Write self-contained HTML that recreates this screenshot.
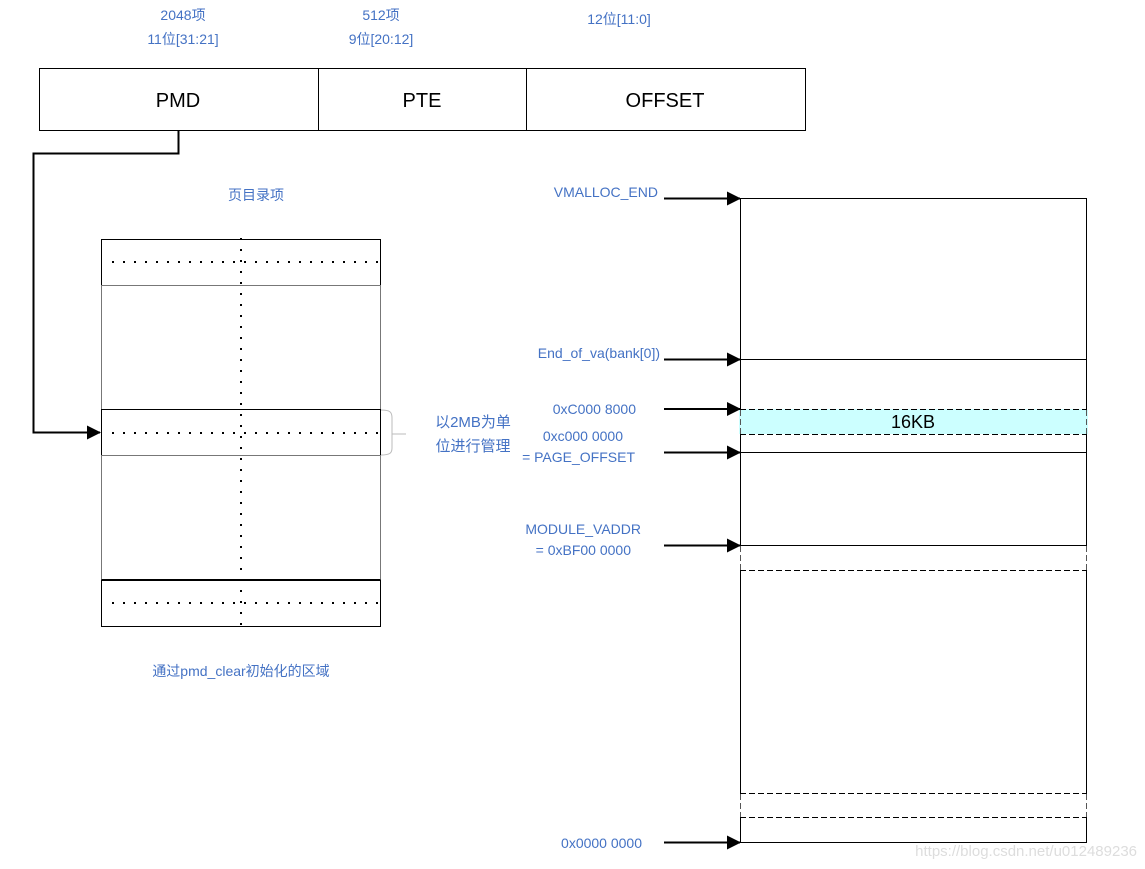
<!DOCTYPE html>
<html><head><meta charset="utf-8"><style>
html,body{margin:0;padding:0;background:#fff;width:1145px;height:869px;overflow:hidden}
svg text{font-family:"Liberation Sans","Noto Sans CJK SC",sans-serif}
</style></head><body>
<svg width="1145" height="869" viewBox="0 0 1145 869" xmlns="http://www.w3.org/2000/svg">
<defs>
<marker id="a" markerWidth="14" markerHeight="14" refX="13" refY="7" orient="auto" markerUnits="userSpaceOnUse">
<path d="M0,0 L14,7 L0,14 z" fill="#000"/></marker>
</defs>
<g fill="#4472C4" font-size="14" text-anchor="middle">
<text x="183" y="20">2048项</text>
<text x="183" y="44">11位[31:21]</text>
<text x="381" y="20">512项</text>
<text x="381" y="44">9位[20:12]</text>
<text x="619" y="24">12位[11:0]</text>
<text x="256" y="200">页目录项</text>
<text x="241" y="676">通过pmd_clear初始化的区域</text>
<text x="473" y="427" font-size="15">以2MB为单</text>
<text x="473" y="451" font-size="15">位进行管理</text>
</g>
<g fill="#4472C4" font-size="14" text-anchor="end">
<text x="658" y="197">VMALLOC_END</text>
<text x="660" y="358">End_of_va(bank[0])</text>
<text x="636" y="414">0xC000 8000</text>
<text x="623" y="441">0xc000 0000</text>
<text x="635" y="462">= PAGE_OFFSET</text>
<text x="641" y="534">MODULE_VADDR</text>
<text x="631" y="555">= 0xBF00 0000</text>
<text x="642" y="848">0x0000 0000</text>
</g>
<!-- top box -->
<rect x="39.5" y="68.5" width="766" height="62" fill="none" stroke="#000"/>
<line x1="318.5" y1="68" x2="318.5" y2="131" stroke="#000"/>
<line x1="526.5" y1="68" x2="526.5" y2="131" stroke="#000"/>
<g font-size="20" text-anchor="middle" fill="#000">
<text x="178" y="107">PMD</text>
<text x="422" y="107">PTE</text>
<text x="665" y="107">OFFSET</text>
</g>
<!-- connector -->
<polyline points="178.5,131 178.5,153.5 33.5,153.5 33.5,432.5 100,432.5" fill="none" stroke="#000" stroke-width="2" marker-end="url(#a)"/>
<!-- left table -->
<g fill="none" stroke="#000">
<rect x="101.5" y="239.5" width="279" height="46"/>
<rect x="101.5" y="285.5" width="279" height="124" stroke="#777"/>
<rect x="101.5" y="409.5" width="279" height="46"/>
<rect x="101.5" y="455.5" width="279" height="125" stroke="#777"/>
<rect x="101.5" y="580.5" width="279" height="46"/>
<line x1="101.5" y1="580" x2="380.5" y2="580" stroke-width="2"/>
<g stroke-width="2" stroke-dasharray="2 9">
<line x1="241" y1="238" x2="241" y2="626"/>
<line x1="112" y1="262" x2="380" y2="262"/>
<line x1="112" y1="433" x2="380" y2="433"/>
<line x1="112" y1="603" x2="380" y2="603"/>
</g>
<path d="M381,410 C390,410 392,412 392,418 L392,448 C392,453 390,455 381,455 M392,434 L406,434" stroke="#bbb"/>
</g>
<!-- right box -->
<rect x="740" y="409" width="347" height="25" fill="#CCFFFF"/>
<g fill="none" stroke="#000">
<line x1="740.5" y1="198" x2="740.5" y2="842"/>
<line x1="1086.5" y1="198" x2="1086.5" y2="842"/>
<line x1="740" y1="198.5" x2="1087" y2="198.5"/>
<line x1="740" y1="359.5" x2="1087" y2="359.5"/>
<line x1="740" y1="452.5" x2="1087" y2="452.5"/>
<line x1="740" y1="545.5" x2="1087" y2="545.5"/>
<line x1="740" y1="842.5" x2="1087" y2="842.5"/>
<g stroke-dasharray="6 3">
<line x1="740" y1="409.5" x2="1087" y2="409.5"/>
<line x1="740" y1="434.5" x2="1087" y2="434.5"/>
<line x1="740" y1="570.5" x2="1087" y2="570.5"/>
<line x1="740" y1="793.5" x2="1087" y2="793.5"/>
<line x1="740" y1="817.5" x2="1087" y2="817.5"/>
</g>
</g>
<rect x="739" y="546" width="3" height="24" fill="#fff"/><rect x="1085" y="546" width="3" height="24" fill="#fff"/>
<rect x="739" y="794" width="3" height="23" fill="#fff"/><rect x="1085" y="794" width="3" height="23" fill="#fff"/>
<rect x="739" y="410" width="3" height="24" fill="#CCFFFF"/><rect x="1085" y="410" width="3" height="24" fill="#CCFFFF"/>
<g stroke="#555" stroke-dasharray="6 3">
<line x1="740.5" y1="546" x2="740.5" y2="570"/><line x1="1086.5" y1="546" x2="1086.5" y2="570"/>
<line x1="740.5" y1="794" x2="740.5" y2="817"/><line x1="1086.5" y1="794" x2="1086.5" y2="817"/>
<line x1="740.5" y1="410" x2="740.5" y2="434"/><line x1="1086.5" y1="410" x2="1086.5" y2="434"/>
</g>
<text x="913" y="428" font-size="18" text-anchor="middle" fill="#000">16KB</text>
<!-- arrows -->
<g stroke="#000" stroke-width="2" marker-end="url(#a)">
<line x1="664" y1="198.5" x2="740" y2="198.5"/>
<line x1="664" y1="359.5" x2="740" y2="359.5"/>
<line x1="664" y1="409" x2="740" y2="409"/>
<line x1="664" y1="452.5" x2="740" y2="452.5"/>
<line x1="664" y1="545.5" x2="740" y2="545.5"/>
<line x1="664" y1="842.5" x2="740" y2="842.5"/>
</g>
<text x="1137" y="856" font-size="15" text-anchor="end" fill="#ddd">https://blog.csdn.net/u012489236</text>
</svg>
</body></html>
